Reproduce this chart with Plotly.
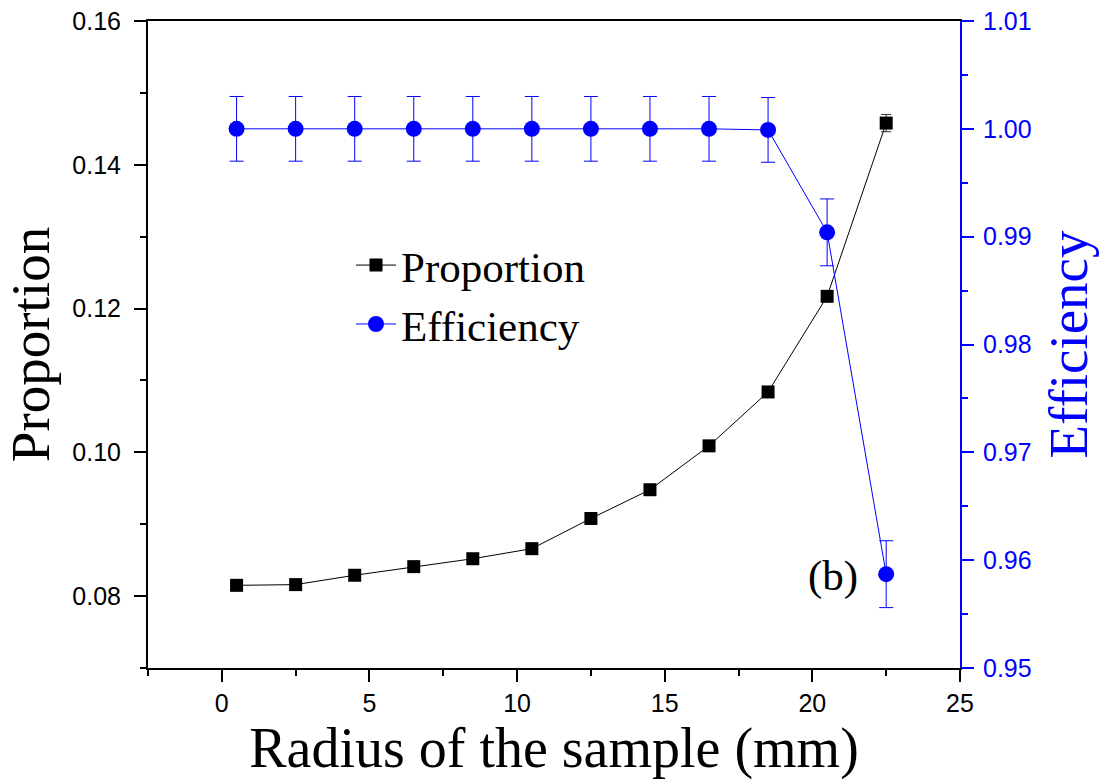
import plotly.graph_objects as go

radius = [0.5, 2.5, 4.5, 6.5, 8.5, 10.5, 12.5, 14.5, 16.5, 18.5, 20.5, 22.5]
proportion = [0.0815, 0.0816, 0.0829, 0.0841, 0.0852, 0.0866, 0.0908, 0.0948, 0.1009, 0.1084, 0.1217, 0.1458]
proportion_err = [0.0002, 0.0002, 0.0002, 0.0002, 0.0002, 0.0002, 0.0002, 0.0002, 0.0003, 0.0004, 0.0007, 0.0012]
efficiency = [1.0000, 1.0000, 1.0000, 1.0000, 1.0000, 1.0000, 1.0000, 1.0000, 1.0000, 0.9999, 0.9904, 0.9587]
efficiency_err = [0.0030, 0.0030, 0.0030, 0.0030, 0.0030, 0.0030, 0.0030, 0.0030, 0.0030, 0.0030, 0.0031, 0.0031]

BLUE = "#0000FF"
SERIF = "Liberation Serif, Times New Roman, serif"
SANS = "Liberation Sans, Arial, sans-serif"

fig = go.Figure()
fig.add_trace(go.Scatter(
    x=radius, y=proportion, name="Proportion", mode="lines+markers",
    line=dict(color="black", width=1),
    marker=dict(symbol="square", size=13, color="black"),
    error_y=dict(type="data", array=proportion_err, color="#333333", thickness=1, width=5),
    yaxis="y",
))
fig.add_trace(go.Scatter(
    x=radius, y=efficiency, name="Efficiency", mode="lines+markers",
    line=dict(color=BLUE, width=1),
    marker=dict(symbol="circle", size=16, color=BLUE),
    error_y=dict(type="data", array=efficiency_err, color=BLUE, thickness=1, width=7),
    yaxis="y2",
))

fig.add_annotation(x=20.7, y=0.0828, xref="x", yref="y", text="(b)", showarrow=False,
                   font=dict(family=SERIF, size=43, color="black"))

fig.update_layout(
    width=1119, height=782,
    margin=dict(l=148, r=159, t=21, b=114),
    paper_bgcolor="white", plot_bgcolor="white",
    showlegend=True,
    legend=dict(x=0.25, y=0.676, xanchor="left", yanchor="top",
                font=dict(family=SERIF, size=43, color="black"),
                bgcolor="rgba(0,0,0,0)", itemwidth=40, tracegroupgap=0),
    xaxis=dict(
        range=[-2.5, 25], tick0=0, dtick=5, ticks="outside", ticklen=12, tickwidth=2,
        tickcolor="black", showline=True, linewidth=2, linecolor="black", mirror=True,
        showgrid=False, zeroline=False, automargin=False,
        tickfont=dict(family=SANS, size=25, color="black"),
        minor=dict(dtick=2.5, ticks="outside", ticklen=6, tickwidth=2, tickcolor="black"),
        title=dict(text="Radius of the sample (mm)", standoff=6,
                   font=dict(family=SERIF, size=56, color="black")),
    ),
    yaxis=dict(
        range=[0.07, 0.16], tick0=0.08, dtick=0.02, tickformat=".2f",
        ticks="outside", ticklen=12, tickwidth=2, tickcolor="black",
        showline=True, linewidth=2, linecolor="black", automargin=False,
        showgrid=False, zeroline=False, ticklabelstandoff=8,
        tickfont=dict(family=SANS, size=25, color="black"),
        minor=dict(dtick=0.01, ticks="outside", ticklen=6, tickwidth=2, tickcolor="black"),
        title=dict(text="Proportion", standoff=12,
                   font=dict(family=SERIF, size=55, color="black")),
    ),
    yaxis2=dict(
        range=[0.95, 1.01], tick0=0.95, dtick=0.01, tickformat=".2f",
        overlaying="y", side="right", automargin=False,
        ticks="outside", ticklen=12, tickwidth=2, tickcolor=BLUE,
        showline=True, linewidth=2, linecolor=BLUE,
        showgrid=False, zeroline=False, ticklabelstandoff=4,
        tickfont=dict(family=SANS, size=25, color=BLUE),
        minor=dict(dtick=0.005, ticks="outside", ticklen=6, tickwidth=2, tickcolor=BLUE),
        title=dict(text="Efficiency", standoff=18,
                   font=dict(family=SERIF, size=55, color=BLUE)),
    ),
)

fig.write_html("out.html")
